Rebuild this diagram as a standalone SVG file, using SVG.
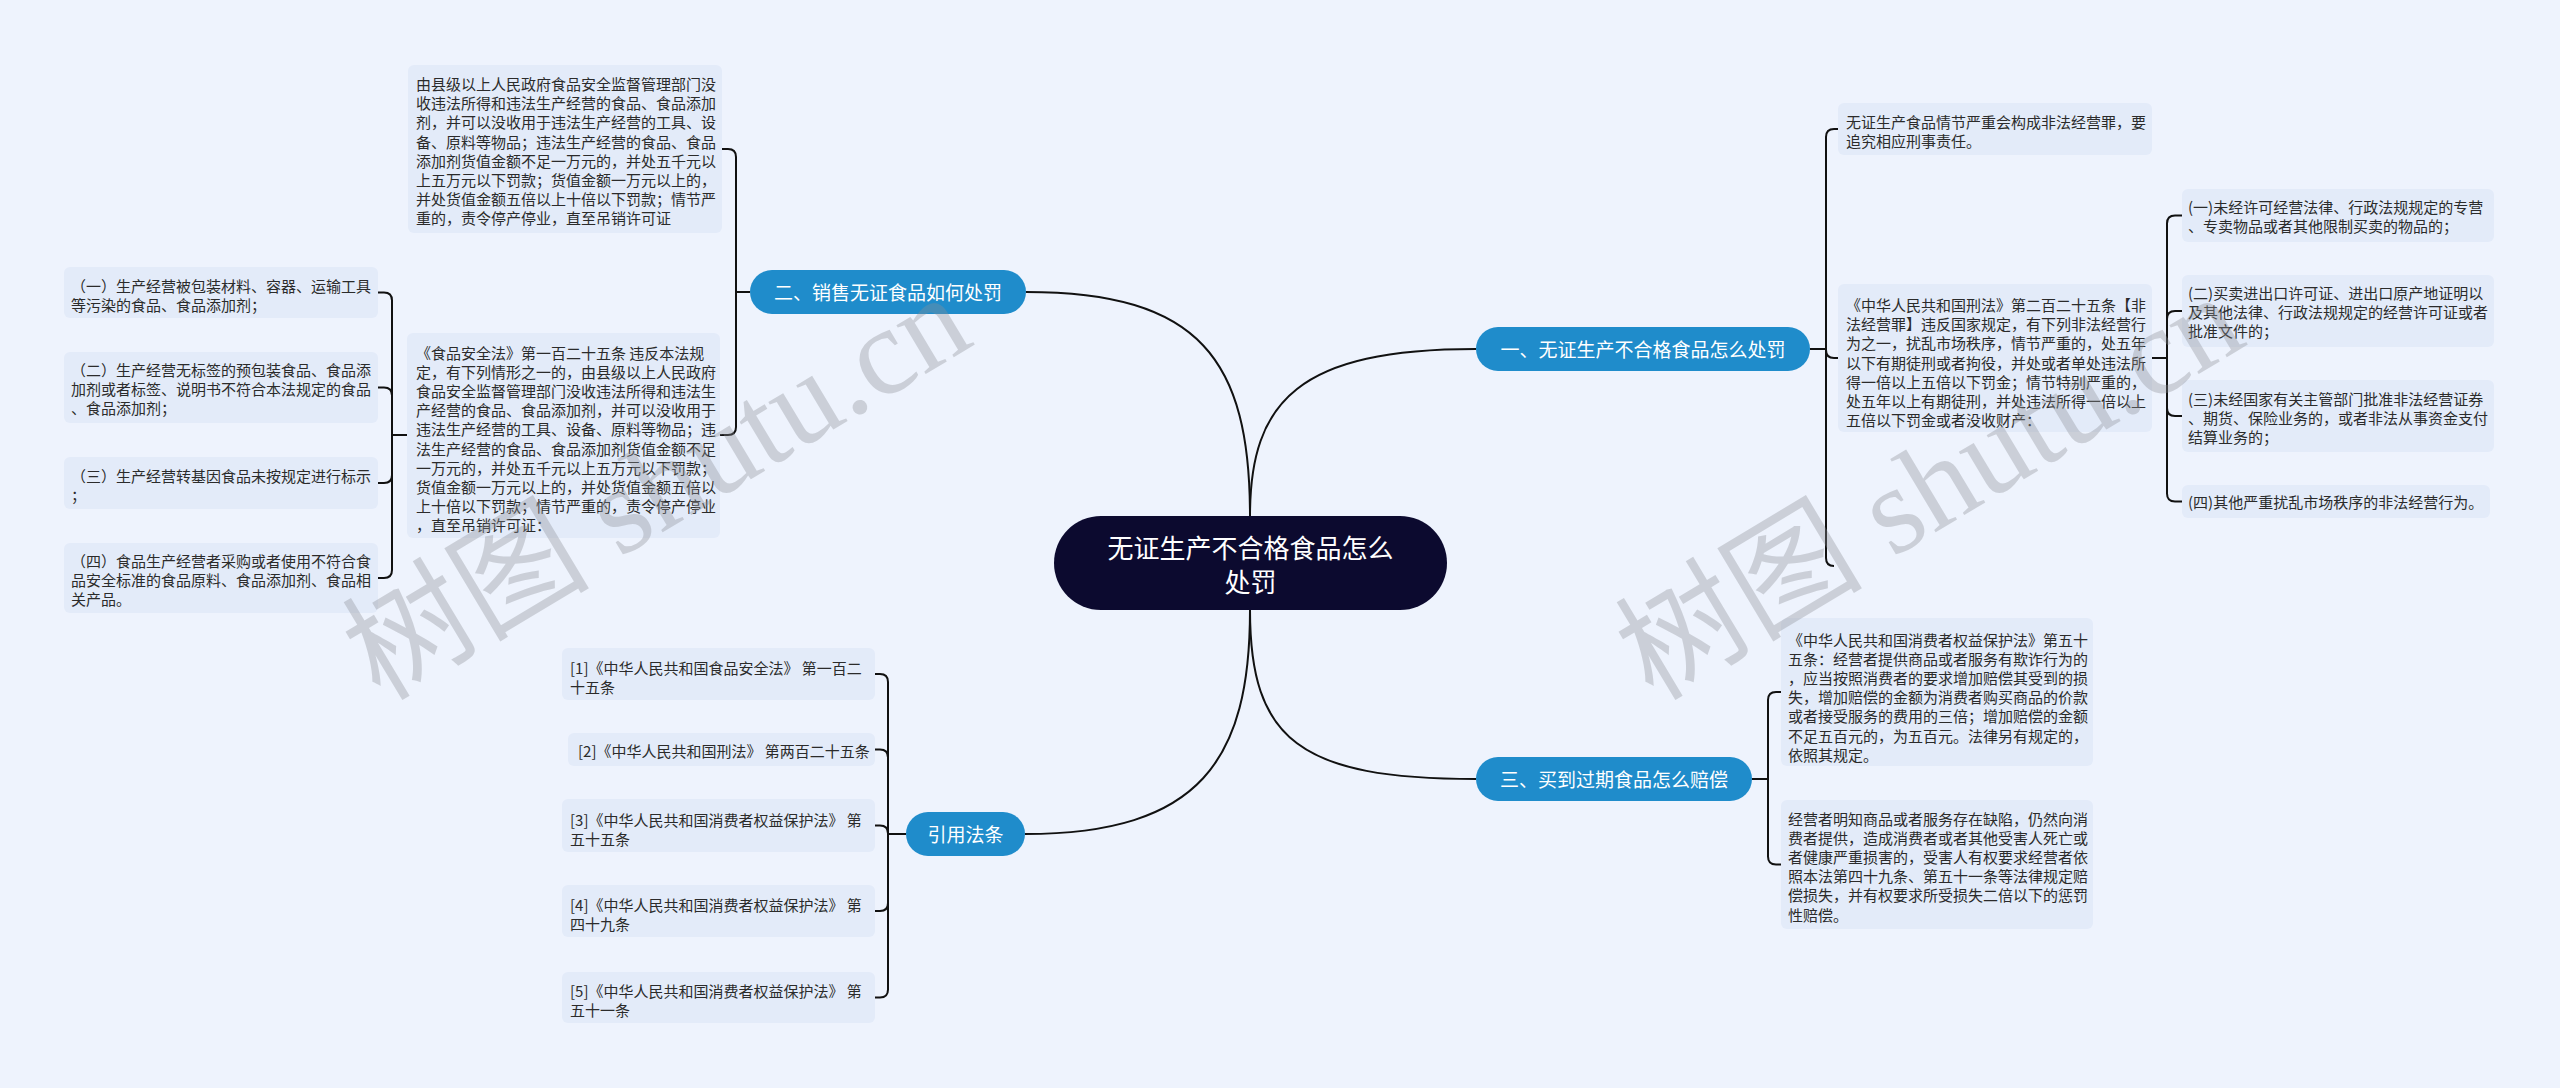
<svg xmlns="http://www.w3.org/2000/svg" width="2560" height="1088" viewBox="0 0 2560 1088">
<style>
.bg{fill:#eef3fd}
.leaf{fill:#e3ebf9}
.pill{fill:#1f8ccb}
.root{fill:#0c0a2f}
.lt{font-family:"Noto Sans CJK SC","Noto Sans",sans-serif;font-size:15px;fill:#2b2b2b;dominant-baseline:central}
.bt{font-family:"Noto Sans CJK SC","Noto Sans",sans-serif;font-size:19px;fill:#ffffff;dominant-baseline:central;text-anchor:middle}
.rt{font-family:"Noto Sans CJK SC","Noto Sans",sans-serif;font-size:26px;fill:#ffffff;dominant-baseline:central;text-anchor:middle}
.ln{fill:none;stroke:#111111;stroke-width:2}
.wm{font-family:"Liberation Serif","Noto Sans CJK SC",serif;font-size:124px;fill:#8c8f96;opacity:0.35}
</style>
<rect class="bg" x="0" y="0" width="2560" height="1088"/>

<g id="connectors">
  <path class="ln" d="M1026,292 C1200,292 1250,360 1250,516"/>
  <path class="ln" d="M1476,349 C1300,349 1250,400 1250,516"/>
  <path class="ln" d="M1025,834 C1200,834 1250,760 1250,610"/>
  <path class="ln" d="M1476,779 C1300,779 1250,740 1250,610"/>
  <!-- branch 2 -->
  <path class="ln" d="M750,292 H736 V157 Q736,149 728,149 H722"/>
  <path class="ln" d="M750,292 H736 V427 Q736,435 728,435 H720"/>
  <!-- left leaves -->
  <path class="ln" d="M407,435 H392 V300.5 Q392,292.5 384,292.5 H378"/>
  <path class="ln" d="M407,435 H392 V395.5 Q392,387.5 384,387.5 H378"/>
  <path class="ln" d="M407,435 H392 V475 Q392,483 384,483 H378"/>
  <path class="ln" d="M407,435 H392 V570 Q392,578 384,578 H378"/>
  <!-- branch 1 -->
  <path class="ln" d="M1810,349 H1826 V137 Q1826,129 1834,129 H1838"/>
  <path class="ln" d="M1810,349 H1826 V350 Q1826,358 1834,358 H1838"/>
  <path class="ln" d="M1810,349 H1826 V558 Q1826,566 1834,566"/>
  <!-- far right -->
  <path class="ln" d="M2152,358 H2167 V223.5 Q2167,215.5 2175,215.5 H2182"/>
  <path class="ln" d="M2152,358 H2167 V319 Q2167,311 2175,311 H2182"/>
  <path class="ln" d="M2152,358 H2167 V408 Q2167,416 2175,416 H2182"/>
  <path class="ln" d="M2152,358 H2167 V493.5 Q2167,501.5 2175,501.5 H2182"/>
  <!-- branch 3 -->
  <path class="ln" d="M1752,779 H1768 V700 Q1768,692 1776,692 H1781"/>
  <path class="ln" d="M1752,779 H1768 V856.5 Q1768,864.5 1776,864.5 H1781"/>
  <!-- refs -->
  <path class="ln" d="M906,834 H888 V682 Q888,674 880,674 H875"/>
  <path class="ln" d="M906,834 H888 V757.5 Q888,749.5 880,749.5 H875"/>
  <path class="ln" d="M906,834 H888 V833.5 Q888,825.5 880,825.5 H875"/>
  <path class="ln" d="M906,834 H888 V903 Q888,911 880,911 H875"/>
  <path class="ln" d="M906,834 H888 V989.5 Q888,997.5 880,997.5 H875"/>
</g>

<g id="root">
  <rect class="root" x="1054" y="516" width="393" height="94" rx="47"/>
  <text class="rt" x="1250.5" y="546">无证生产不合格食品怎么</text>
  <text class="rt" x="1250.5" y="580">处罚</text>
</g>

<g id="branch2">
  <rect class="pill" x="750" y="270" width="276" height="44" rx="22"/>
  <text class="bt" x="888" y="291">二、销售无证食品如何处罚</text>
</g>
<g id="branch1">
  <rect class="pill" x="1476" y="327" width="334" height="44" rx="22"/>
  <text class="bt" x="1643" y="348">一、无证生产不合格食品怎么处罚</text>
</g>
<g id="branch3">
  <rect class="pill" x="1476" y="757" width="276" height="44" rx="22"/>
  <text class="bt" x="1614" y="778">三、买到过期食品怎么赔偿</text>
</g>
<g id="branch4">
  <rect class="pill" x="906" y="812" width="119" height="44" rx="22"/>
  <text class="bt" x="965.5" y="833">引用法条</text>
</g>

<g id="b2-leaf1">
  <rect class="leaf" x="408" y="65" width="314" height="168" rx="6"/>
  <text class="lt">
    <tspan x="416" y="83">由县级以上人民政府食品安全监督管理部门没</tspan>
    <tspan x="416" y="102.2">收违法所得和违法生产经营的食品、食品添加</tspan>
    <tspan x="416" y="121.4">剂，并可以没收用于违法生产经营的工具、设</tspan>
    <tspan x="416" y="140.6">备、原料等物品；违法生产经营的食品、食品</tspan>
    <tspan x="416" y="159.8">添加剂货值金额不足一万元的，并处五千元以</tspan>
    <tspan x="416" y="179">上五万元以下罚款；货值金额一万元以上的，</tspan>
    <tspan x="416" y="198.2">并处货值金额五倍以上十倍以下罚款；情节严</tspan>
    <tspan x="416" y="217.4">重的，责令停产停业，直至吊销许可证</tspan>
  </text>
</g>
<g id="b2-leaf2">
  <rect class="leaf" x="407" y="333" width="313" height="205" rx="6"/>
  <text class="lt">
    <tspan x="416" y="351.5">《食品安全法》第一百二十五条 违反本法规</tspan>
    <tspan x="416" y="370.7">定，有下列情形之一的，由县级以上人民政府</tspan>
    <tspan x="416" y="389.9">食品安全监督管理部门没收违法所得和违法生</tspan>
    <tspan x="416" y="409.1">产经营的食品、食品添加剂，并可以没收用于</tspan>
    <tspan x="416" y="428.3">违法生产经营的工具、设备、原料等物品；违</tspan>
    <tspan x="416" y="447.5">法生产经营的食品、食品添加剂货值金额不足</tspan>
    <tspan x="416" y="466.7">一万元的，并处五千元以上五万元以下罚款；</tspan>
    <tspan x="416" y="485.9">货值金额一万元以上的，并处货值金额五倍以</tspan>
    <tspan x="416" y="505.1">上十倍以下罚款；情节严重的，责令停产停业</tspan>
    <tspan x="416" y="524.3">，直至吊销许可证：</tspan>
  </text>
</g>
<g id="left-1">
  <rect class="leaf" x="64" y="267" width="314" height="51" rx="6"/>
  <text class="lt"><tspan x="71" y="285">（一）生产经营被包装材料、容器、运输工具</tspan><tspan x="71" y="304.2">等污染的食品、食品添加剂；</tspan></text>
</g>
<g id="left-2">
  <rect class="leaf" x="64" y="352" width="314" height="71" rx="6"/>
  <text class="lt"><tspan x="71" y="368.5">（二）生产经营无标签的预包装食品、食品添</tspan><tspan x="71" y="387.7">加剂或者标签、说明书不符合本法规定的食品</tspan><tspan x="71" y="406.9">、食品添加剂；</tspan></text>
</g>
<g id="left-3">
  <rect class="leaf" x="64" y="457" width="314" height="52" rx="6"/>
  <text class="lt"><tspan x="71" y="474.5">（三）生产经营转基因食品未按规定进行标示</tspan><tspan x="71" y="493.7">；</tspan></text>
</g>
<g id="left-4">
  <rect class="leaf" x="64" y="543" width="314" height="70" rx="6"/>
  <text class="lt"><tspan x="71" y="559.5">（四）食品生产经营者采购或者使用不符合食</tspan><tspan x="71" y="578.7">品安全标准的食品原料、食品添加剂、食品相</tspan><tspan x="71" y="597.9">关产品。</tspan></text>
</g>

<g id="b1-leaf1">
  <rect class="leaf" x="1838" y="103" width="314" height="52" rx="6"/>
  <text class="lt"><tspan x="1846" y="121">无证生产食品情节严重会构成非法经营罪，要</tspan><tspan x="1846" y="140">追究相应刑事责任。</tspan></text>
</g>
<g id="b1-leaf2">
  <rect class="leaf" x="1838" y="284" width="314" height="148" rx="6"/>
  <text class="lt">
    <tspan x="1846" y="304">《中华人民共和国刑法》第二百二十五条【非</tspan>
    <tspan x="1846" y="323.2">法经营罪】违反国家规定，有下列非法经营行</tspan>
    <tspan x="1846" y="342.4">为之一，扰乱市场秩序，情节严重的，处五年</tspan>
    <tspan x="1846" y="361.6">以下有期徒刑或者拘役，并处或者单处违法所</tspan>
    <tspan x="1846" y="380.8">得一倍以上五倍以下罚金；情节特别严重的，</tspan>
    <tspan x="1846" y="400">处五年以上有期徒刑，并处违法所得一倍以上</tspan>
    <tspan x="1846" y="419.2">五倍以下罚金或者没收财产：</tspan>
  </text>
</g>
<g id="fr-1">
  <rect class="leaf" x="2182" y="189" width="312" height="53" rx="6"/>
  <text class="lt"><tspan x="2188" y="206">(一)未经许可经营法律、行政法规规定的专营</tspan><tspan x="2188" y="225.2">、专卖物品或者其他限制买卖的物品的；</tspan></text>
</g>
<g id="fr-2">
  <rect class="leaf" x="2182" y="275" width="312" height="72" rx="6"/>
  <text class="lt"><tspan x="2188" y="291.5">(二)买卖进出口许可证、进出口原产地证明以</tspan><tspan x="2188" y="310.7">及其他法律、行政法规规定的经营许可证或者</tspan><tspan x="2188" y="329.9">批准文件的；</tspan></text>
</g>
<g id="fr-3">
  <rect class="leaf" x="2182" y="380" width="312" height="72" rx="6"/>
  <text class="lt"><tspan x="2188" y="397.5">(三)未经国家有关主管部门批准非法经营证券</tspan><tspan x="2188" y="416.7">、期货、保险业务的，或者非法从事资金支付</tspan><tspan x="2188" y="435.9">结算业务的；</tspan></text>
</g>
<g id="fr-4">
  <rect class="leaf" x="2182" y="485" width="308" height="33" rx="6"/>
  <text class="lt"><tspan x="2188" y="501">(四)其他严重扰乱市场秩序的非法经营行为。</tspan></text>
</g>

<g id="b3-leaf1">
  <rect class="leaf" x="1781" y="618" width="312" height="148" rx="6"/>
  <text class="lt">
    <tspan x="1788" y="638.5">《中华人民共和国消费者权益保护法》第五十</tspan>
    <tspan x="1788" y="657.7">五条：经营者提供商品或者服务有欺诈行为的</tspan>
    <tspan x="1788" y="676.9">，应当按照消费者的要求增加赔偿其受到的损</tspan>
    <tspan x="1788" y="696.1">失，增加赔偿的金额为消费者购买商品的价款</tspan>
    <tspan x="1788" y="715.3">或者接受服务的费用的三倍；增加赔偿的金额</tspan>
    <tspan x="1788" y="734.5">不足五百元的，为五百元。法律另有规定的，</tspan>
    <tspan x="1788" y="753.7">依照其规定。</tspan>
  </text>
</g>
<g id="b3-leaf2">
  <rect class="leaf" x="1781" y="800" width="312" height="129" rx="6"/>
  <text class="lt">
    <tspan x="1788" y="817.5">经营者明知商品或者服务存在缺陷，仍然向消</tspan>
    <tspan x="1788" y="836.7">费者提供，造成消费者或者其他受害人死亡或</tspan>
    <tspan x="1788" y="855.9">者健康严重损害的，受害人有权要求经营者依</tspan>
    <tspan x="1788" y="875.1">照本法第四十九条、第五十一条等法律规定赔</tspan>
    <tspan x="1788" y="894.3">偿损失，并有权要求所受损失二倍以下的惩罚</tspan>
    <tspan x="1788" y="913.5">性赔偿。</tspan>
  </text>
</g>

<g id="ref-1">
  <rect class="leaf" x="562" y="648" width="313" height="52" rx="6"/>
  <text class="lt"><tspan x="570" y="667">[1]《中华人民共和国食品安全法》 第一百二</tspan><tspan x="570" y="686">十五条</tspan></text>
</g>
<g id="ref-2">
  <rect class="leaf" x="568" y="733" width="307" height="33" rx="6"/>
  <text class="lt"><tspan x="578" y="749.5">[2]《中华人民共和国刑法》 第两百二十五条</tspan></text>
</g>
<g id="ref-3">
  <rect class="leaf" x="562" y="799" width="313" height="53" rx="6"/>
  <text class="lt"><tspan x="570" y="818.5">[3]《中华人民共和国消费者权益保护法》 第</tspan><tspan x="570" y="837.5">五十五条</tspan></text>
</g>
<g id="ref-4">
  <rect class="leaf" x="562" y="885" width="313" height="52" rx="6"/>
  <text class="lt"><tspan x="570" y="904">[4]《中华人民共和国消费者权益保护法》 第</tspan><tspan x="570" y="923">四十九条</tspan></text>
</g>
<g id="ref-5">
  <rect class="leaf" x="562" y="972" width="313" height="51" rx="6"/>
  <text class="lt"><tspan x="570" y="990">[5]《中华人民共和国消费者权益保护法》 第</tspan><tspan x="570" y="1009">五十一条</tspan></text>
</g>

<g id="watermarks">
  <text class="wm" transform="translate(380,702) rotate(-31)">树图 shutu.cn</text>
  <text class="wm" transform="translate(1653,702) rotate(-31)">树图 shutu.cn</text>
</g>
</svg>
